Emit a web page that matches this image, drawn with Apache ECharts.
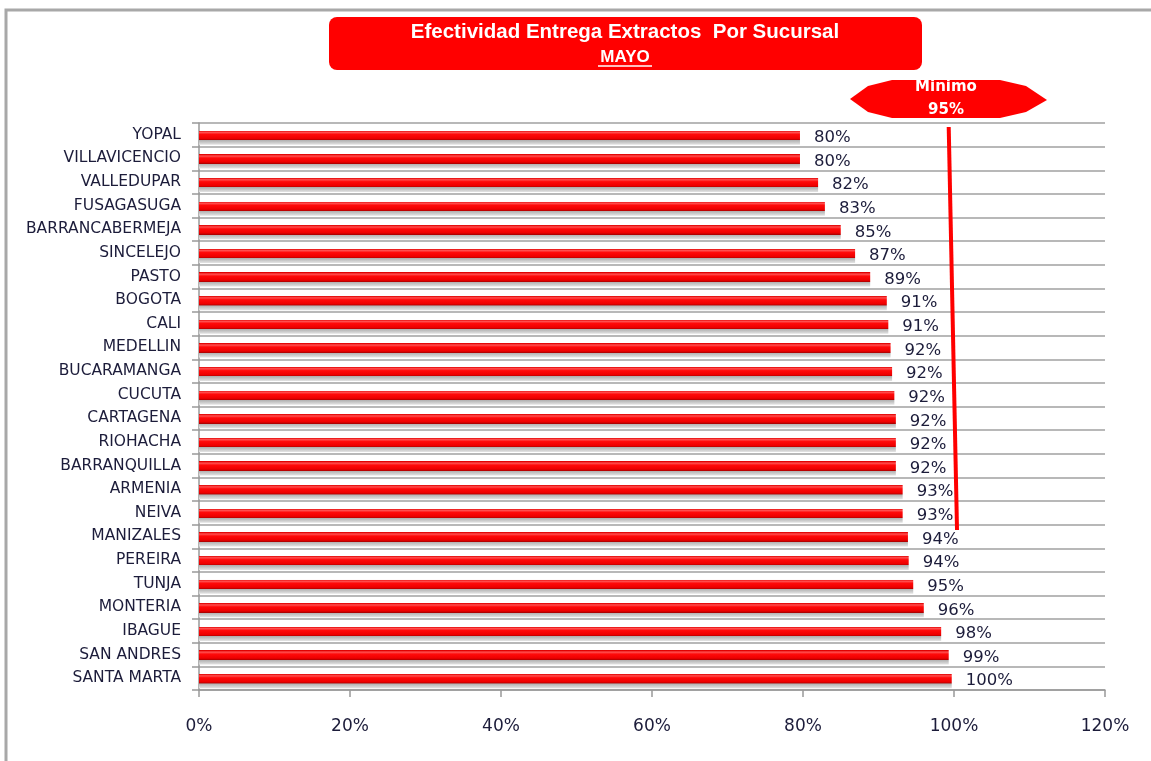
<!DOCTYPE html>
<html>
<head>
<meta charset="utf-8">
<script src="https://cdn.jsdelivr.net/npm/echarts@6/dist/echarts.min.js"></script>
<style>
html,body{margin:0;padding:0;background:#fff;}
#chart{width:1151px;height:761px;}
</style>
</head>
<body>
<div id="chart"></div>
<script>
var categories = ['YOPAL','VILLAVICENCIO','VALLEDUPAR','FUSAGASUGA','BARRANCABERMEJA','SINCELEJO','PASTO','BOGOTA','CALI','MEDELLIN','BUCARAMANGA','CUCUTA','CARTAGENA','RIOHACHA','BARRANQUILLA','ARMENIA','NEIVA','MANIZALES','PEREIRA','TUNJA','MONTERIA','IBAGUE','SAN ANDRES','SANTA MARTA'];
var values = [79.6,79.6,82.0,82.9,85.0,86.9,88.9,91.1,91.3,91.6,91.8,92.1,92.3,92.3,92.3,93.2,93.2,93.9,94.0,94.6,96.0,98.3,99.3,99.7];
var xTicks = {min:0, max:120, interval:20};
var minimoLine = [[99.3,0.17],[100.4,17.23]];
var titleText = 'Efectividad Entrega Extractos  Por Sucursal';
var subtitleText = 'MAYO';
var minimoLabel = ['Minimo','95%'];

var chart = echarts.init(document.getElementById('chart'), null, {renderer:'canvas'});
var textColor = '#1c1c3a';
var option = {
  animation:false,
  backgroundColor:'#fff',
  grid:{left:199, right:46, top:123, bottom:71, containLabel:false},
  xAxis:{
    type:'value', min:xTicks.min, max:xTicks.max, interval:xTicks.interval, position:'bottom',
    axisLine:{show:true, onZero:false, lineStyle:{color:'#999', width:1.5}},
    axisTick:{show:true, length:7, lineStyle:{color:'#999', width:1.5}},
    splitLine:{show:false},
    axisLabel:{formatter:'{value}%', color:textColor, fontFamily:'DejaVu Sans', fontSize:17, margin:28}
  },
  yAxis:[{
    type:'category', data:categories, inverse:true,
    axisLine:{show:true, lineStyle:{color:'#999', width:1.5}},
    axisTick:{show:true, length:7, lineStyle:{color:'#999', width:1.5}},
    splitLine:{show:true, lineStyle:{color:'#a0a0a0', width:1.5}},
    axisLabel:{color:textColor, fontFamily:'DejaVu Sans', fontSize:15.5, margin:18}
  },{
    type:'value', min:0, max:24, inverse:true, show:false,
    axisLine:{show:false}, axisTick:{show:false}, axisLabel:{show:false}, splitLine:{show:false}
  }],
  series:[{
    type:'bar', data:values, barWidth:20, yAxisIndex:0,
    itemStyle:{color:{type:'linear', x:0, y:0, x2:0, y2:1, colorStops:[
      {offset:0, color:'rgba(255,255,255,0)'},
      {offset:0.29, color:'rgba(255,255,255,0)'},
      {offset:0.295, color:'#e00000'},
      {offset:0.38, color:'#ff5050'},
      {offset:0.48, color:'#ff0a0a'},
      {offset:0.68, color:'#ee0000'},
      {offset:0.76, color:'#b00000'},
      {offset:0.77, color:'#b0b0b0'},
      {offset:1, color:'#e4e4e4'}
    ]}},
    label:{show:true, position:'right', distance:14, offset:[0,3],
      formatter:function(p){return Math.round(p.value)+'%';},
      color:textColor, fontFamily:'DejaVu Sans', fontSize:16.5}
  },{
    type:'line', yAxisIndex:1, data:minimoLine, symbol:'none',
    lineStyle:{color:'#ff0000', width:4}, z:5
  }],
  graphic:[
    {type:'polyline', shape:{points:[[6,761],[6,10],[1151,10]]}, style:{stroke:'#a8a8a8', lineWidth:3, fill:null}},
    {type:'rect', shape:{x:329, y:17, width:593, height:53, r:8}, style:{fill:'#ff0000'}},
    {type:'text', x:625, y:32, style:{text:titleText, fill:'#fff', font:'bold 20.5px "Liberation Sans"', textAlign:'center', textVerticalAlign:'middle'}},
    {type:'text', x:625, y:57, style:{text:subtitleText, fill:'#fff', font:'bold 17px "Liberation Sans"', textAlign:'center', textVerticalAlign:'middle'}},
    {type:'line', shape:{x1:598, y1:66, x2:652, y2:66}, style:{stroke:'#fff', lineWidth:1.5}},
    {type:'polygon', shape:{points:[[850,99],[868,86],[892,80],[1000,80],[1026,86],[1047,100],[1026,112],[1000,118],[892,118],[868,112]]}, style:{fill:'#ff0000'}},
    {type:'text', x:946, y:87, style:{text:minimoLabel[0], fill:'#fff', font:'bold 15px "DejaVu Sans"', textAlign:'center', textVerticalAlign:'middle'}},
    {type:'text', x:946, y:110, style:{text:minimoLabel[1], fill:'#fff', font:'bold 15px "DejaVu Sans"', textAlign:'center', textVerticalAlign:'middle'}}
  ]
};
chart.setOption(option);
</script>
</body>
</html>
